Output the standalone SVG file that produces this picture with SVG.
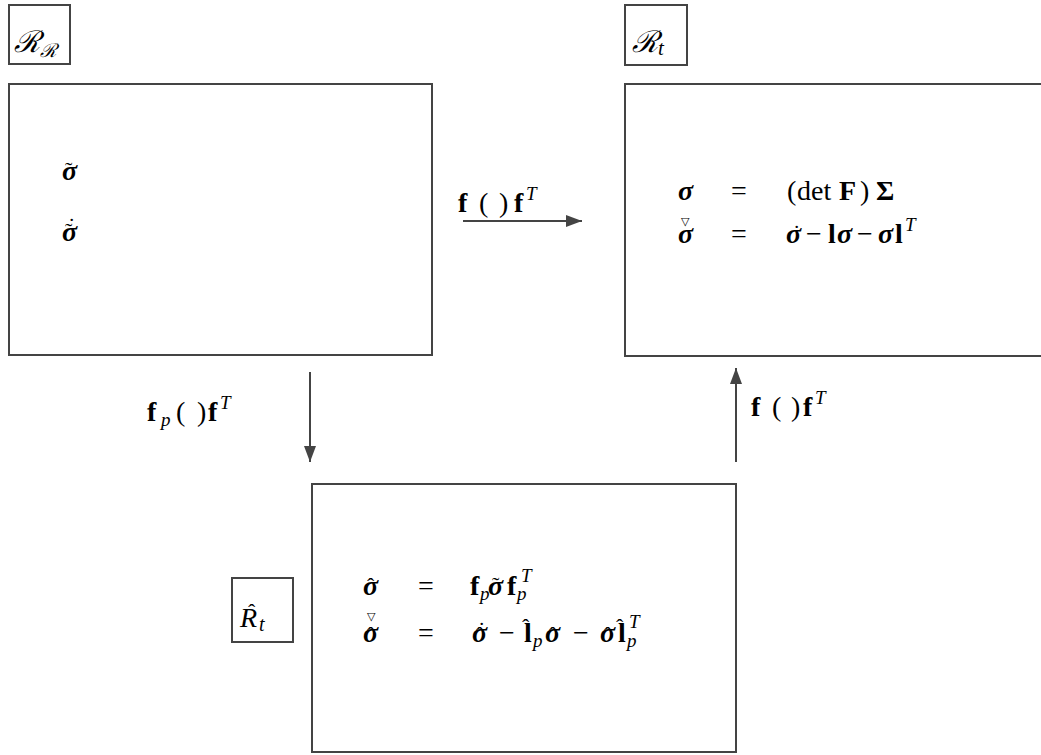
<svg xmlns="http://www.w3.org/2000/svg" width="1041" height="755" viewBox="0 0 1041 755">
<defs>
<style>
.box{fill:#fff;stroke:#444;stroke-width:2}
.m{font-family:"Liberation Serif","DejaVu Serif",serif;font-size:28px;fill:#000}
.b{font-weight:bold}
.bi{font-weight:bold;font-style:italic}
.i{font-style:italic}
.s{font-size:19px}
.a{font-size:22px;font-weight:normal;font-style:normal}
.nab{font-family:"DejaVu Sans",sans-serif;font-size:11px}
.scr{font-family:"DejaVu Serif","Liberation Serif",serif;font-style:italic;font-size:30px;fill:#000}
.conn{stroke:#444;stroke-width:2;fill:none}
</style>
<marker id="ah" markerWidth="16" markerHeight="12" refX="16" refY="6" orient="auto" markerUnits="userSpaceOnUse">
<path d="M0,0 L16,6 L0,12 Z" fill="#444"/>
</marker>
</defs>
<rect width="1041" height="755" fill="#fff"/>

<g id="node-RR">
<rect class="box" x="9" y="5" width="61" height="59"/>
<text class="scr" x="14" y="52">ℛ<tspan font-size="19" dy="5">ℛ</tspan></text>
<rect class="box" x="9" y="84" width="423" height="271"/>
<text class="m"><tspan class="bi" x="62" y="180">σ</tspan><tspan class="a" x="65" y="177">˜</tspan></text>
<text class="m"><tspan class="bi" x="62" y="241">σ</tspan><tspan class="a" x="65" y="238">˜</tspan><tspan class="a" x="68" y="233">˙</tspan></text>
</g>

<g id="node-Rt">
<rect class="box" x="625" y="5" width="62" height="60"/>
<text class="scr" x="632" y="52">ℛ<tspan class="i" font-family="Liberation Serif" font-size="21" dy="3">t</tspan></text>
<rect class="box" x="625" y="84" width="430" height="272"/>
<text class="m"><tspan class="bi" x="678" y="200">σ</tspan><tspan x="731">=</tspan><tspan x="787">(</tspan><tspan x="797">det</tspan><tspan class="b" x="839">F</tspan><tspan x="860">)</tspan><tspan class="b" x="876">Σ</tspan></text>
<text class="m"><tspan class="nab" x="681" y="225">▽</tspan><tspan class="bi" x="678" y="243">σ</tspan><tspan x="731">=</tspan><tspan class="bi" x="786">σ</tspan><tspan class="a" x="793" y="240">˙</tspan><tspan x="806" y="243">−</tspan><tspan class="b" x="828">l</tspan><tspan class="bi" x="837">σ</tspan><tspan x="857">−</tspan><tspan class="bi" x="878">σ</tspan><tspan class="b" x="895">l</tspan><tspan class="s i" x="905" y="231">T</tspan></text>
</g>

<g id="node-Rhat">
<rect class="box" x="232" y="578" width="61" height="64"/>
<text class="m i" font-size="30"><tspan x="240" y="627">R</tspan><tspan class="a" x="248" y="619">ˆ</tspan><tspan font-size="20" x="259" y="631">t</tspan></text>
<rect class="box" x="312" y="484" width="424" height="268"/>
<text class="m"><tspan class="bi" x="363" y="595">σ</tspan><tspan class="a" x="367" y="593">ˆ</tspan><tspan x="418" y="595">=</tspan><tspan class="b" x="470">f</tspan><tspan class="i s" x="480" y="600">p</tspan><tspan class="bi" x="488" y="595">σ</tspan><tspan class="a" x="492" y="592">˜</tspan><tspan class="b" x="507" y="595">f</tspan><tspan class="i s" x="517" y="600">p</tspan><tspan class="s i" x="521" y="582">T</tspan></text>
<text class="m"><tspan class="nab" x="367" y="620">▽</tspan><tspan class="bi" x="363" y="642">σ</tspan><tspan class="a" x="367" y="642">ˆ</tspan><tspan x="418" y="642">=</tspan><tspan class="bi" x="472">σ</tspan><tspan class="a" x="476" y="642">ˆ</tspan><tspan class="a" x="478" y="637">˙</tspan><tspan x="499" y="642">−</tspan><tspan class="b" x="524">l</tspan><tspan class="a" x="522" y="634">ˆ</tspan><tspan class="i s" x="533" y="647">p</tspan><tspan class="bi" x="545" y="642">σ</tspan><tspan class="a" x="549" y="642">ˆ</tspan><tspan x="573">−</tspan><tspan class="bi" x="600">σ</tspan><tspan class="a" x="604" y="642">ˆ</tspan><tspan class="b" x="618">l</tspan><tspan class="a" x="616" y="634">ˆ</tspan><tspan class="i s" x="627" y="647">p</tspan><tspan class="s i" x="629" y="628">T</tspan></text>
</g>

<g id="connectors">
<line class="conn" x1="463" y1="221" x2="582" y2="221" marker-end="url(#ah)"/>
<line class="conn" x1="310" y1="372" x2="310" y2="462" marker-end="url(#ah)"/>
<line class="conn" x1="736" y1="462" x2="736" y2="368" marker-end="url(#ah)"/>
<text class="m"><tspan class="b" x="458" y="212">f</tspan><tspan x="479">(</tspan><tspan x="499">)</tspan><tspan class="b" x="514">f</tspan><tspan class="s i" x="526" y="200">T</tspan></text>
<text class="m"><tspan class="b" x="147" y="421">f</tspan><tspan class="s i" x="161" y="426">p</tspan><tspan x="176" y="421">(</tspan><tspan x="197">)</tspan><tspan class="b" x="208">f</tspan><tspan class="s i" x="220" y="409">T</tspan></text>
<text class="m"><tspan class="b" x="751" y="416">f</tspan><tspan x="772">(</tspan><tspan x="791">)</tspan><tspan class="b" x="803">f</tspan><tspan class="s i" x="815" y="404">T</tspan></text>
</g>
</svg>
